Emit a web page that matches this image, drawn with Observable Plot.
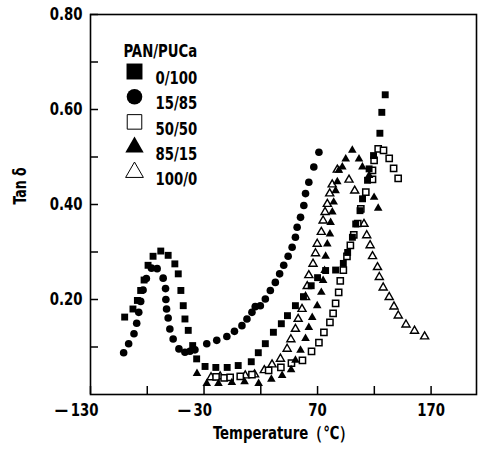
<!DOCTYPE html>
<html><head><meta charset="utf-8">
<script src="https://cdn.jsdelivr.net/npm/d3@7"></script>
<script src="https://cdn.jsdelivr.net/npm/@observablehq/plot@0.6"></script>
<style>
html,body{margin:0;padding:0;background:#fff;}
#chart svg{display:block;}
</style></head><body><div id="chart"></div>
<script>
const seriesNames = ["0/100", "15/85", "50/50", "85/15", "100/0"];

const temp_0_100 = [-99.9,-92.6,-88.7,-85.8,-82.8,-79.3,-74.9,-68.1,-61.6,-55.7,-52.7,-50.4,-48.3,-46.8,-43.9,-40.0,-36.5,-29.1,-19.6,-9.6,0.1,11.6,17.8,24.0,31.1,38.1,43.5,50.5,57.6,64.4,70.0,77.1,85.9,92.7,96.5,100.7,103.6,107.4,109.6,114.0,115.4,119.3,124.9,126.6,129.6];
const tan_0_100  = [0.163,0.180,0.198,0.219,0.241,0.272,0.291,0.302,0.293,0.275,0.254,0.219,0.187,0.159,0.135,0.103,0.075,0.059,0.057,0.057,0.061,0.069,0.088,0.107,0.131,0.149,0.166,0.187,0.206,0.229,0.246,0.261,0.262,0.276,0.299,0.331,0.359,0.387,0.412,0.451,0.475,0.503,0.550,0.594,0.631];

const temp_15_85 = [-100.8,-96.4,-91.7,-89.3,-87.5,-85.8,-83.7,-80.8,-76.3,-71.3,-66.0,-63.9,-63.6,-63.0,-61.6,-60.1,-57.2,-52.1,-46.8,-42.4,-38.0,-27.6,-18.8,-9.9,-3.2,3.4,7.8,12.2,15.1,19.6,24.0,28.4,32.8,36.6,40.2,44.1,47.6,50.5,52.0,55.0,57.9,59.4,62.3,66.7,71.2];
const tan_15_85  = [0.088,0.107,0.128,0.150,0.173,0.196,0.220,0.244,0.266,0.265,0.245,0.223,0.200,0.180,0.161,0.138,0.117,0.096,0.089,0.091,0.094,0.107,0.114,0.122,0.133,0.145,0.159,0.173,0.185,0.187,0.201,0.219,0.236,0.254,0.272,0.291,0.310,0.331,0.352,0.373,0.398,0.423,0.447,0.479,0.510];

const temp_50_50 = [-19.4,-12.3,-7.0,1.9,12.2,26.9,37.7,47.0,56.7,64.7,71.2,75.6,80.9,83.7,85.9,88.6,90.0,92.7,95.9,98.9,101.9,105.4,108.1,112.5,118.4,118.4,119.8,123.4,128.1,133.1,137.0,141.0];
const tan_50_50  = [0.037,0.035,0.036,0.038,0.042,0.051,0.057,0.066,0.072,0.091,0.109,0.131,0.152,0.171,0.192,0.215,0.239,0.262,0.291,0.314,0.336,0.360,0.391,0.426,0.453,0.472,0.493,0.517,0.514,0.497,0.476,0.455];

const temp_85_15 = [-36.2,-27.6,-17.3,-5.5,5.7,18.1,29.3,38.8,46.7,50.5,55.0,59.4,62.3,65.3,69.7,73.3,74.9,76.2,77.1,78.6,80.9,81.5,83.0,84.2,85.9,87.4,88.8,91.8,94.8,100.6,106.5,109.5,115.4,119.8,123.4];
const tan_85_15  = [0.044,0.023,0.023,0.025,0.027,0.023,0.032,0.040,0.052,0.072,0.093,0.118,0.141,0.162,0.187,0.215,0.240,0.261,0.291,0.317,0.338,0.362,0.384,0.405,0.429,0.448,0.472,0.479,0.496,0.514,0.496,0.479,0.461,0.415,0.392];

const temp_100_0 = [-23.8,-15.8,6.3,14.5,23.1,29.9,37.3,43.2,46.5,50.5,52.9,56.3,59.4,60.9,62.3,66.0,68.2,69.7,73.3,74.9,76.6,78.6,80.7,82.9,87.4,97.7,102.7,110.9,113.3,116.3,118.4,122.8,124.4,127.8,133.1,137.3,141.1,147.9,155.4,164.3];
const tan_100_0  = [0.036,0.038,0.040,0.042,0.051,0.063,0.075,0.096,0.116,0.138,0.159,0.180,0.205,0.228,0.251,0.275,0.297,0.317,0.342,0.366,0.384,0.401,0.423,0.442,0.473,0.452,0.429,0.359,0.335,0.314,0.291,0.268,0.247,0.225,0.205,0.185,0.166,0.147,0.134,0.122];

const xTicksMajor = [-130, -30, 70, 170];
const xTicksMinor = [-80, 20, 120];
const yTicksMajor = [0.2, 0.4, 0.6, 0.8];
const yTicksMinor = [0.1, 0.3, 0.5, 0.7];
const xLabel = "Temperature（℃）";
const yLabel = "Tan δ";
const legendTitle = "PAN/PUCa";

const FONT = '"Liberation Sans Narrow","DejaVu Sans Condensed","Arial Narrow",sans-serif';

const table = (t, v) => t.map((d, i) => ({t: d, v: v[i]}));
const data = {
  "0/100": table(temp_0_100, tan_0_100),
  "15/85": table(temp_15_85, tan_15_85),
  "50/50": table(temp_50_50, tan_50_50),
  "85/15": table(temp_85_15, tan_85_15),
  "100/0": table(temp_100_0, tan_100_0)
};
const look = {
  "0/100": {symbol: "square",   fill: "black", stroke: "none",  sw: 0,   r: 3.9, lr: 9.0},
  "15/85": {symbol: "circle",   fill: "black", stroke: "none",  sw: 0,   r: 3.8, lr: 7.8},
  "50/50": {symbol: "square",   fill: "white", stroke: "black", sw: 1.5, r: 3.5, lr: 8.2},
  "85/15": {symbol: "triangle", fill: "black", stroke: "none",  sw: 0,   r: 3.2, lr: 6.8},
  "100/0": {symbol: "triangle", fill: "white", stroke: "black", sw: 1.4, r: 3.0, lr: 6.6}
};
const drawOrder = ["100/0", "50/50", "85/15", "15/85", "0/100"];

const marks = [];
for (const s of drawOrder) {
  const L = look[s];
  marks.push(Plot.dot(data[s], {x: "t", y: "v", symbol: L.symbol, r: L.r, fill: L.fill, stroke: L.stroke, strokeWidth: L.sw}));
}
// axes
marks.push(Plot.axisX([...xTicksMajor, ...xTicksMinor], {tickSize: 8, dy: -8, text: null, label: null, strokeWidth: 1.5}));
marks.push(Plot.axisY([...yTicksMajor, ...yTicksMinor], {tickSize: 8, dx: 8, text: null, label: null, strokeWidth: 1.5}));
marks.push(Plot.axisY(yTicksMajor, {tickSize: 0, tickPadding: 8, tickFormat: d3.format(".2f"), label: null, fontWeight: "bold"}));
marks.push(Plot.axisX(xTicksMajor.filter(d => d >= 0), {tickSize: 0, tickPadding: 9, label: null, fontWeight: "bold", tickFormat: d => String(d)}));
marks.push(Plot.axisX(xTicksMajor.filter(d => d < 0), {tickSize: 0, tickPadding: 9, label: null, fontWeight: "bold", textAnchor: "end", dx: 8, tickFormat: d => "\u2014\u2009" + Math.abs(d)}));
marks.push(Plot.frame({stroke: "black", strokeWidth: 1.6}));
// axis titles
marks.push(Plot.text([yLabel], {frameAnchor: "left", dx: -70, rotate: -90, text: d => d, fontSize: 17, fontWeight: "bold"}));
marks.push(Plot.text([xLabel], {frameAnchor: "bottom", dy: 44, text: d => d, fontSize: 18, fontWeight: "bold"}));
// legend
marks.push(Plot.text([legendTitle], {frameAnchor: "top-left", dx: 33, dy: 30, textAnchor: "start", text: d => d, fontSize: 18, fontWeight: "bold"}));
seriesNames.forEach((s, i) => {
  const L = look[s];
  const dy = 57 + i * 25.2;
  marks.push(Plot.dot([s], {frameAnchor: "top-left", dx: 44, dy, symbol: L.symbol, r: L.lr, fill: L.fill, stroke: L.stroke, strokeWidth: L.sw ? 1 : 0}));
  marks.push(Plot.text([s], {frameAnchor: "top-left", dx: 65, dy, textAnchor: "start", text: d => d, fontSize: 18, fontWeight: "bold"}));
});

const chart = Plot.plot({
  width: 480, height: 454,
  marginLeft: 90, marginRight: 4, marginTop: 14, marginBottom: 60,
  x: {domain: [-130, 210], axis: null},
  y: {domain: [0, 0.8], axis: null},
  style: {fontFamily: FONT, fontSize: "18px", color: "black", background: "white"},
  marks
});
document.getElementById("chart").appendChild(chart);
// condense the (wide) fallback font horizontally to mimic the original narrow typeface
chart.querySelectorAll("text").forEach(t => {
  const w = t.getComputedTextLength();
  if (w > 0) {
    t.setAttribute("textLength", (w * 0.82).toFixed(1));
    t.setAttribute("lengthAdjust", "spacingAndGlyphs");
  }
});
</script></body></html>
